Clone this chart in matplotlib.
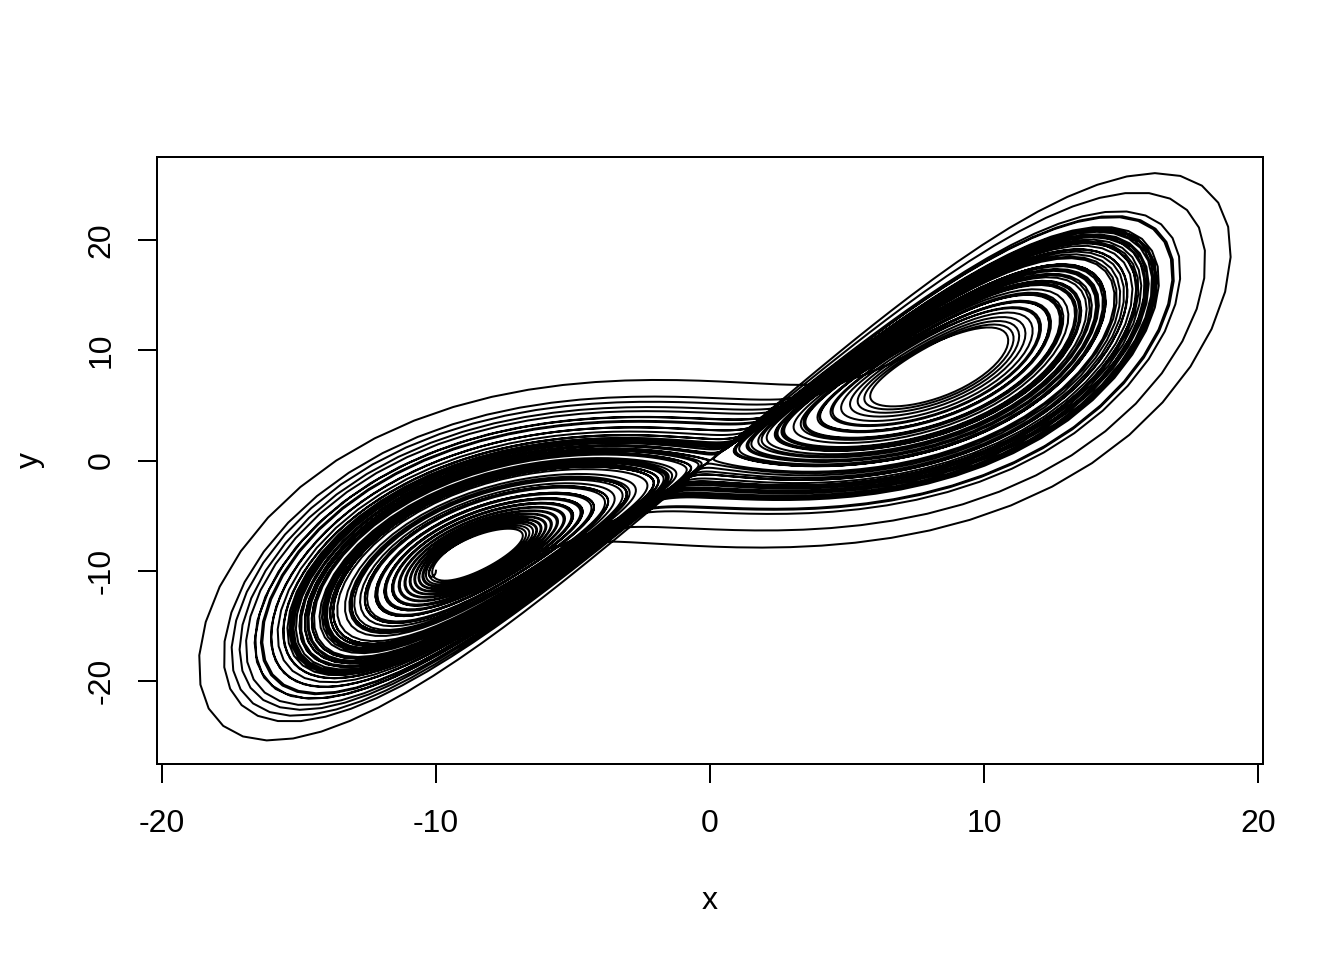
import numpy as np
import matplotlib.pyplot as plt

# Lorenz system settings (x-y projection)
sigma = 10.0
rho = 28.0
beta = 8.0 / 3.0
start = [-10.0, -10.0, 25.0]
t_end = 100.0
dt_out = 0.01
substeps = 10

x_ticks = [-20, -10, 0, 10, 20]
y_ticks = [-20, -10, 0, 10, 20]


def lorenz(s):
    x, y, z = s
    return np.array([sigma * (y - x), x * (rho - z) - y, x * y - beta * z])


def simulate():
    h = dt_out / substeps
    n = int(round(t_end / dt_out))
    out = np.empty((n + 1, 3))
    s = np.array(start, dtype=float)
    out[0] = s
    for i in range(n):
        for _ in range(substeps):
            k1 = lorenz(s)
            k2 = lorenz(s + h / 2 * k1)
            k3 = lorenz(s + h / 2 * k2)
            k4 = lorenz(s + h * k3)
            s = s + h / 6 * (k1 + 2 * k2 + 2 * k3 + k4)
        out[i + 1] = s
    return out


traj = simulate()

plt.rcParams['font.family'] = ['Liberation Sans', 'DejaVu Sans']
fig = plt.figure(figsize=(7, 5), dpi=192)
ax = fig.add_axes([157 / 1344, 196 / 960, 1106 / 1344, 607 / 960])

ax.plot(traj[:, 0], traj[:, 1], color='black', lw=0.75)

ax.set_xlim(-20.18, 20.18)
ax.set_ylim(-27.55, 27.55)
ax.set_xticks(x_ticks)
ax.set_yticks(y_ticks)
ax.set_xticklabels([str(v) for v in x_ticks])
ax.set_yticklabels([str(v) for v in y_ticks], rotation=90, va='center')
ax.tick_params(direction='out', length=7.2, width=0.75, labelsize=12, pad=8)
ax.tick_params(axis='x', pad=9.5)
for sp in ax.spines.values():
    sp.set_linewidth(0.75)

ax.set_xlabel('x', fontsize=12, va='center')
ax.set_ylabel('y', fontsize=12, va='center')
ax.xaxis.set_label_coords(0.5, -0.226)
ax.yaxis.set_label_coords(-0.115, 0.5)

fig.savefig('out.png', dpi=192)
